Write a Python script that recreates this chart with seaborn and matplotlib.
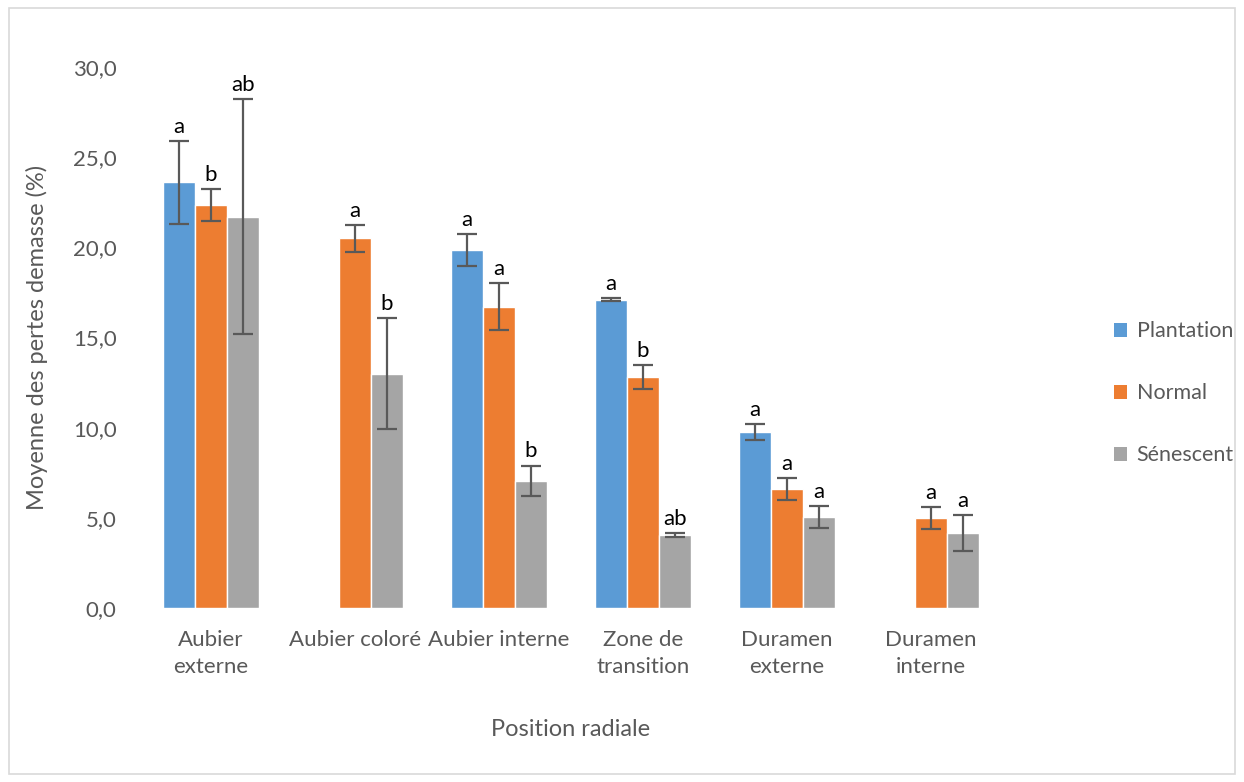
import matplotlib
import matplotlib.pyplot as plt
import numpy as np
import pandas as pd
import seaborn as sns
from matplotlib.patches import Rectangle, Patch

matplotlib.use("Agg")

# Data
positions = ["Aubier\nexterne", "Aubier coloré", "Aubier interne",
             "Zone de\ntransition", "Duramen\nexterne", "Duramen\ninterne"]
groups = ["Plantation", "Normal", "Sénescent"]

plantation = [23.6, np.nan, 19.85, 17.1, 9.75, np.nan]
normal = [22.35, 20.5, 16.7, 12.8, 6.6, 5.0]
senescent = [21.7, 13.0, 7.05, 4.05, 5.05, 4.15]

plantation_err = [2.3, np.nan, 0.9, 0.08, 0.45, np.nan]
normal_err = [0.9, 0.75, 1.3, 0.65, 0.6, 0.6]
senescent_err = [6.5, 3.1, 0.85, 0.1, 0.6, 1.0]

plantation_letters = ["a", "", "a", "a", "a", ""]
normal_letters = ["b", "a", "a", "b", "a", "a"]
senescent_letters = ["ab", "b", "b", "ab", "a", "a"]

colors = ["#5B9BD5", "#ED7D31", "#A5A5A5"]
text_gray = "#595959"

rows = []
for g, vals, errs, lets in [("Plantation", plantation, plantation_err, plantation_letters),
                            ("Normal", normal, normal_err, normal_letters),
                            ("Sénescent", senescent, senescent_err, senescent_letters)]:
    for p, v, e, l in zip(positions, vals, errs, lets):
        rows.append({"position": p, "groupe": g, "valeur": v, "err": e, "lettre": l})
df = pd.DataFrame(rows)

sns.set_style("white")
plt.rcParams["font.family"] = ["Lato", "DejaVu Sans"]

fig = plt.figure(figsize=(12.44, 7.82), dpi=100)
ax = fig.add_axes([0.1117, 0.2225, 0.6945, 0.6918])

width = 0.667
sns.barplot(data=df.dropna(subset=["valeur"]), x="position", y="valeur", hue="groupe",
            order=positions, hue_order=groups, palette=colors, width=width,
            errorbar=None, saturation=1, legend=False, ax=ax)

nb = len(groups)
bw = width / nb
for i, g in enumerate(groups):
    sub = df[df["groupe"] == g].reset_index(drop=True)
    for j, r in sub.iterrows():
        if np.isnan(r["valeur"]):
            continue
        xc = j + (i - (nb - 1) / 2) * bw
        ax.errorbar(xc, r["valeur"], yerr=r["err"], fmt="none", ecolor=text_gray,
                    elinewidth=1.6, capsize=7, capthick=1.6)
        ax.annotate(r["lettre"], (xc, r["valeur"] + r["err"]), xytext=(0, 3),
                    textcoords="offset points", ha="center", va="bottom",
                    fontsize=16, color="black")

ax.set_xlim(-0.5, len(positions) - 0.5)
ax.set_ylim(0, 30)
ax.set_yticks(np.arange(0, 30.1, 5))
ax.set_yticklabels([f"{t:.1f}".replace(".", ",") for t in np.arange(0, 30.1, 5)])
ax.tick_params(axis="both", length=0, labelsize=16, colors=text_gray)
ax.tick_params(axis="x", pad=16)
ax.tick_params(axis="y", pad=16)
for lab in ax.get_xticklabels():
    lab.set_linespacing(1.45)
sns.despine(ax=ax, left=True, bottom=True)
ax.set_xlabel("Position radiale", fontsize=17, color=text_gray, labelpad=30)
ax.set_ylabel("Moyenne des pertes demasse (%)", fontsize=17, color=text_gray, labelpad=18)

handles = [Patch(facecolor=c, edgecolor="none") for c in colors]
fig.legend(handles, groups, loc="center left", bbox_to_anchor=(0.88, 0.497),
           frameon=False, fontsize=15.5, labelcolor=text_gray, handlelength=0.6,
           handleheight=0.6, handletextpad=0.45, labelspacing=1.95)

fig.patches.append(Rectangle((0.007, 0.01), 0.986, 0.98, transform=fig.transFigure,
                             fill=False, edgecolor="#D9D9D9", linewidth=1.2))

fig.savefig("out.png", dpi=100)
